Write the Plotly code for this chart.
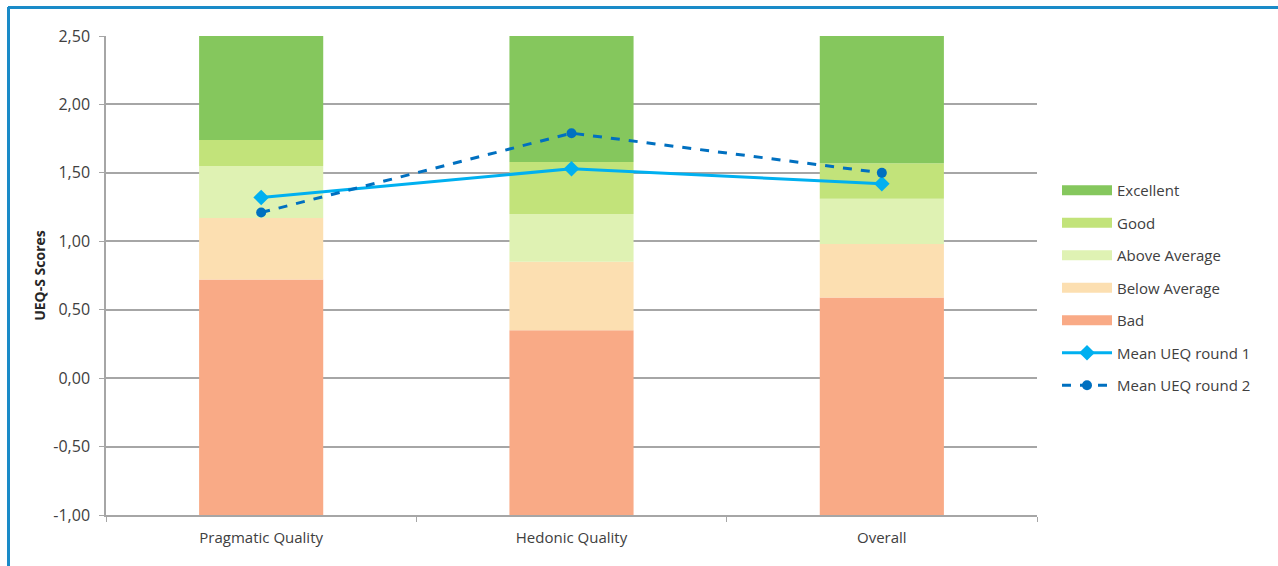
import plotly.graph_objects as go

categories = ["Pragmatic Quality", "Hedonic Quality", "Overall"]
axis_min = -1.0
axis_max = 2.5
tick_values = [-1.0, -0.5, 0.0, 0.5, 1.0, 1.5, 2.0, 2.5]
bad_upper = [0.72, 0.35, 0.59]
below_avg_upper = [1.17, 0.85, 0.98]
above_avg_upper = [1.55, 1.20, 1.31]
good_upper = [1.74, 1.58, 1.57]
excellent_upper = [2.50, 2.50, 2.50]
mean_round1 = [1.32, 1.53, 1.42]
mean_round2 = [1.21, 1.79, 1.50]

W, H = 1278, 566
ML, MR, MT, MB = 106, 241, 36, 51

bands = [
    ("Bad", [axis_min] * 3, bad_upper, "#F9AA86", 5),
    ("Below Average", bad_upper, below_avg_upper, "#FCDFB1", 4),
    ("Above Average", below_avg_upper, above_avg_upper, "#DFF2B3", 3),
    ("Good", above_avg_upper, good_upper, "#C2E37A", 2),
    ("Excellent", good_upper, excellent_upper, "#85C75D", 1),
]

fig = go.Figure()
for name, lo, hi, color, rank in bands:
    fig.add_trace(go.Bar(
        x=categories, base=lo, y=[h - l for h, l in zip(hi, lo)],
        name=name, marker=dict(color=color, line=dict(width=0)),
        showlegend=False, hoverinfo="skip",
    ))
    # legend-only swatch (wide rectangle like the reference)
    fig.add_trace(go.Scatter(
        x=[None], y=[None], mode="lines", name=name,
        line=dict(color=color, width=11),
        legendrank=rank, legendgroup=name, hoverinfo="skip",
    ))

fig.add_trace(go.Scatter(
    x=categories, y=mean_round1, name="Mean UEQ round 1", mode="lines+markers",
    line=dict(color="#00B0F0", width=3), marker=dict(symbol="diamond", size=12, color="#00B0F0"),
    legendrank=6, legendgroup="m1",
))
fig.add_trace(go.Scatter(
    x=categories, y=mean_round2, name="Mean UEQ round 2", mode="lines+markers",
    line=dict(color="#0070C0", width=3, dash="dash"), marker=dict(symbol="circle", size=10, color="#0070C0"),
    legendrank=7, legendgroup="m2",
))

pw = W - ML - MR
ph = H - MT - MB
def px(xp):
    return (xp - ML) / pw
def py(yp):
    return (H - MB - yp) / ph

border = "#1A8BC8"
fig.add_shape(type="line", xref="paper", yref="paper", x0=px(8), x1=px(1278), y0=py(7.5), y1=py(7.5),
              line=dict(color=border, width=3))
fig.add_shape(type="line", xref="paper", yref="paper", x0=px(8.5), x1=px(8.5), y0=py(7), y1=py(566),
              line=dict(color=border, width=3))

tick_text = [f"{v:.2f}".replace(".", ",") for v in tick_values]

fig.update_layout(
    width=W, height=H,
    margin=dict(l=ML, r=MR, t=MT, b=MB, pad=0),
    barmode="overlay", bargap=0.6,
    paper_bgcolor="white", plot_bgcolor="white",
    font=dict(family="Open Sans, Lato, sans-serif", size=15, color="#404040"),
    showlegend=True,
    legend=dict(x=px(1057), y=py(174), xanchor="left", yanchor="top",
                traceorder="grouped", tracegroupgap=10, itemwidth=50,
                font=dict(size=15, color="#404040")),
    yaxis=dict(range=[axis_min, axis_max], tickvals=tick_values, ticktext=tick_text,
               showgrid=True, gridcolor="#A6A6A6", gridwidth=1.5,
               showline=True, linecolor="#A6A6A6", linewidth=1.5,
               ticks="outside", ticklen=5, tickcolor="#A6A6A6", zeroline=False,
               ticklabelstandoff=6,
               title=dict(text="<b>UEQ-S Scores</b>", font=dict(size=14, color="#262626"), standoff=4),
               tickfont=dict(size=16, color="#404040")),
    xaxis=dict(showline=True, linecolor="#A6A6A6", linewidth=1.5,
               ticks="outside", tickson="boundaries", ticklen=5, tickcolor="#A6A6A6",
               ticklabelstandoff=8,
               showgrid=False, tickfont=dict(size=15, color="#404040")),
)

fig.write_html("out.html")
